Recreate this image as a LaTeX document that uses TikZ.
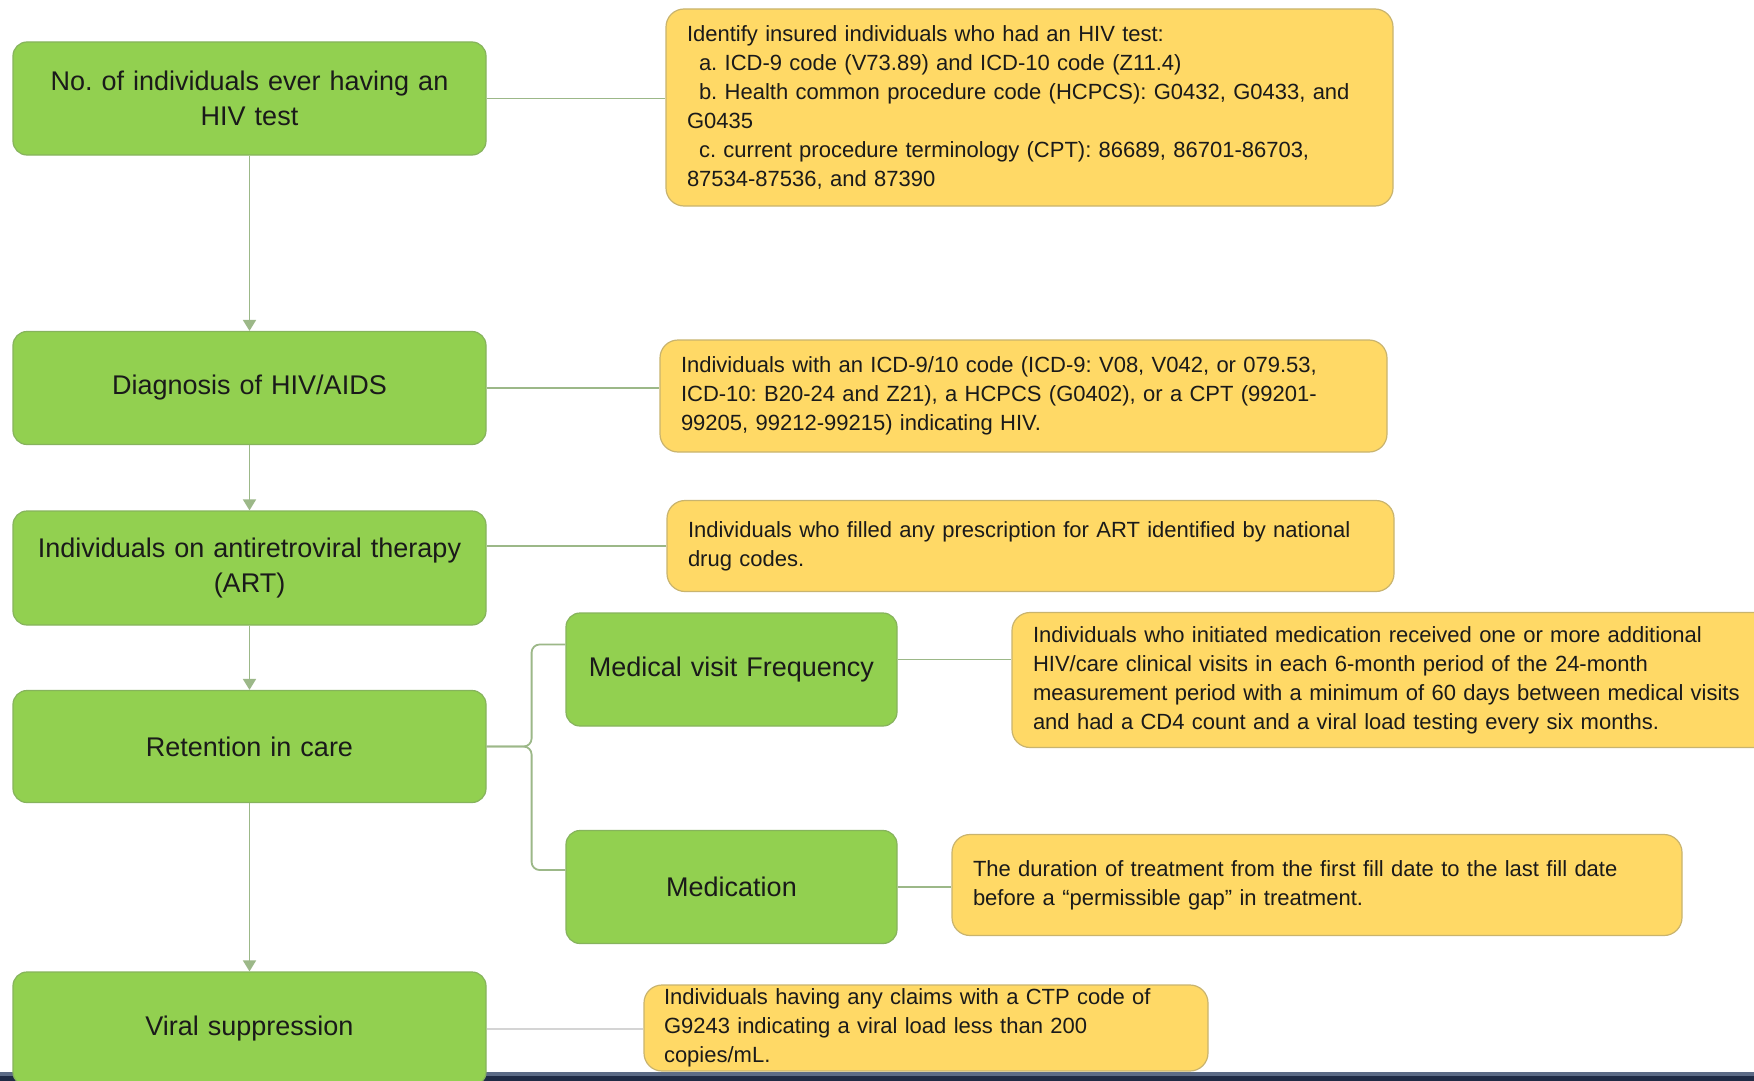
\documentclass[tikz,border=0pt]{standalone}
\usepackage{fontspec}
\setmainfont{Liberation Sans}
\usetikzlibrary{arrows.meta}
\frenchspacing
\hyphenpenalty=10000

\definecolor{boxgreen}{HTML}{92D050}
\definecolor{greenedge}{HTML}{86B35C}
\definecolor{noteyellow}{HTML}{FFD966}
\definecolor{noteedge}{HTML}{C9B46E}
\definecolor{linkgreen}{HTML}{9CB888}
\definecolor{linkgray}{HTML}{D4D4D4}
\definecolor{ink}{HTML}{1A1A1A}
\definecolor{barblue}{HTML}{1F2B45}
\definecolor{barlight}{HTML}{5C6B86}

\begin{document}
\begin{tikzpicture}[x=1pt, y=-1pt,
    main node/.style={draw=greenedge, fill=boxgreen, line width=1.2pt, rounded corners=14pt,
                      minimum width=473pt, minimum height=113pt, text width=450pt,
                      align=center, inner sep=0pt, text=ink,
                      font=\fontsize{27}{35}\selectfont},
    sub node/.style={main node, minimum width=331pt, text width=310pt},
    note node/.style={draw=noteedge, fill=noteyellow, line width=1.2pt, rounded corners=18pt,
                      inner xsep=21pt, inner ysep=0pt, align=left, text=ink,
                      font=\fontsize{22}{29}\selectfont},
    link/.style={draw=linkgreen, line width=1.8pt},
    flow/.style={link, -{Triangle[width=13pt,length=11pt]}}]

  \useasboundingbox (0,0) rectangle (1754,1081);
  \clip (0,0) rectangle (1754,1081);
  \fill[white] (0,0) rectangle (1754,1081);

  % bottom strip
  \fill[barlight] (0,1072) rectangle (1754,1076);
  \fill[barblue] (0,1076) rectangle (1754,1081);

  % main steps
  \node[main node] (1) at (249.5,98.5) {No. of individuals ever having an\\HIV test};
  \node[main node] (2) at (249.5,388) {Diagnosis of HIV/AIDS};
  \node[main node, minimum height=114pt] (3) at (249.5,568) {Individuals on antiretroviral therapy\\(ART)};
  \node[main node, minimum height=112pt] (4) at (249.5,746.5) {Retention in care};
  \node[main node, minimum height=114pt] (5) at (249.5,1029) {Viral suppression};

  % retention sub steps
  \node[sub node] (6) at (731.5,669.5) {Medical visit Frequency};
  \node[sub node] (7) at (731.5,887) {Medication};

  % definitions
  \node[note node, minimum width=727pt, minimum height=197pt, text width=685pt] (n1) at (1029.5,107.5)
    {Identify insured individuals who had an HIV test:\\
     \hspace*{12pt}a. ICD-9 code (V73.89) and ICD-10 code (Z11.4)\\
     \hspace*{12pt}b. Health common procedure code (HCPCS): G0432, G0433, and\\
     G0435\\
     \hspace*{12pt}c. current procedure terminology (CPT): 86689, 86701-86703,\\
     87534-87536, and 87390};
  \node[note node, minimum width=727pt, minimum height=112pt, text width=685pt] (n2) at (1023.5,396)
    {Individuals with an ICD-9/10 code (ICD-9: V08, V042, or 079.53,\\
     ICD-10: B20-24 and Z21), a HCPCS (G0402), or a CPT (99201-\\
     99205, 99212-99215) indicating HIV.};
  \node[note node, minimum width=727pt, minimum height=91pt, text width=685pt] (n3) at (1030.5,546)
    {Individuals who filled any prescription for ART identified by national\\
     drug codes.};
  \node[note node, minimum width=780pt, minimum height=135pt, text width=738pt] (n4) at (1402,680)
    {Individuals who initiated medication received one or more additional\\
     HIV/care clinical visits in each 6-month period of the 24-month\\
     measurement period with a minimum of 60 days between medical visits\\
     and had a CD4 count and a viral load testing every six months.};
  \node[note node, minimum width=730pt, minimum height=101pt, text width=688pt] (n5) at (1317,885)
    {The duration of treatment from the first fill date to the last fill date\\
     before a “permissible gap” in treatment.};
  \node[note node, minimum width=564pt, minimum height=86pt, text width=524pt, inner xsep=20pt] (n6) at (926,1028)
    {Individuals having any claims with a CTP code of\\
     G9243 indicating a viral load less than 200\\
     copies/mL.};

  % flow
  \path (1) edge[flow] (2)
        (2) edge[flow] (3)
        (3) edge[flow] (4)
        (4) edge[flow] (5);

  % bracket to sub steps
  \draw[link, rounded corners=8pt] (4.east) -- ++(45,0) |- ([yshift=25pt]6.west);
  \draw[link, rounded corners=8pt] (4.east) -- ++(45,0) |- ([yshift=17pt]7.west);

  % definitions links
  \draw[link] (1.east) -- (1.east -| n1.west);
  \draw[link] (2.east) -- (2.east -| n2.west);
  \draw[link] (n3.west) -- (n3.west -| 3.east);
  \draw[link] ([yshift=10pt]6.east) -- ([yshift=10pt]6.east -| n4.west);
  \draw[link] (7.east) -- (7.east -| n5.west);
  \draw[draw=linkgray, line width=2.5pt] (5.east) -- (5.east -| n6.west);
\end{tikzpicture}
\end{document}
